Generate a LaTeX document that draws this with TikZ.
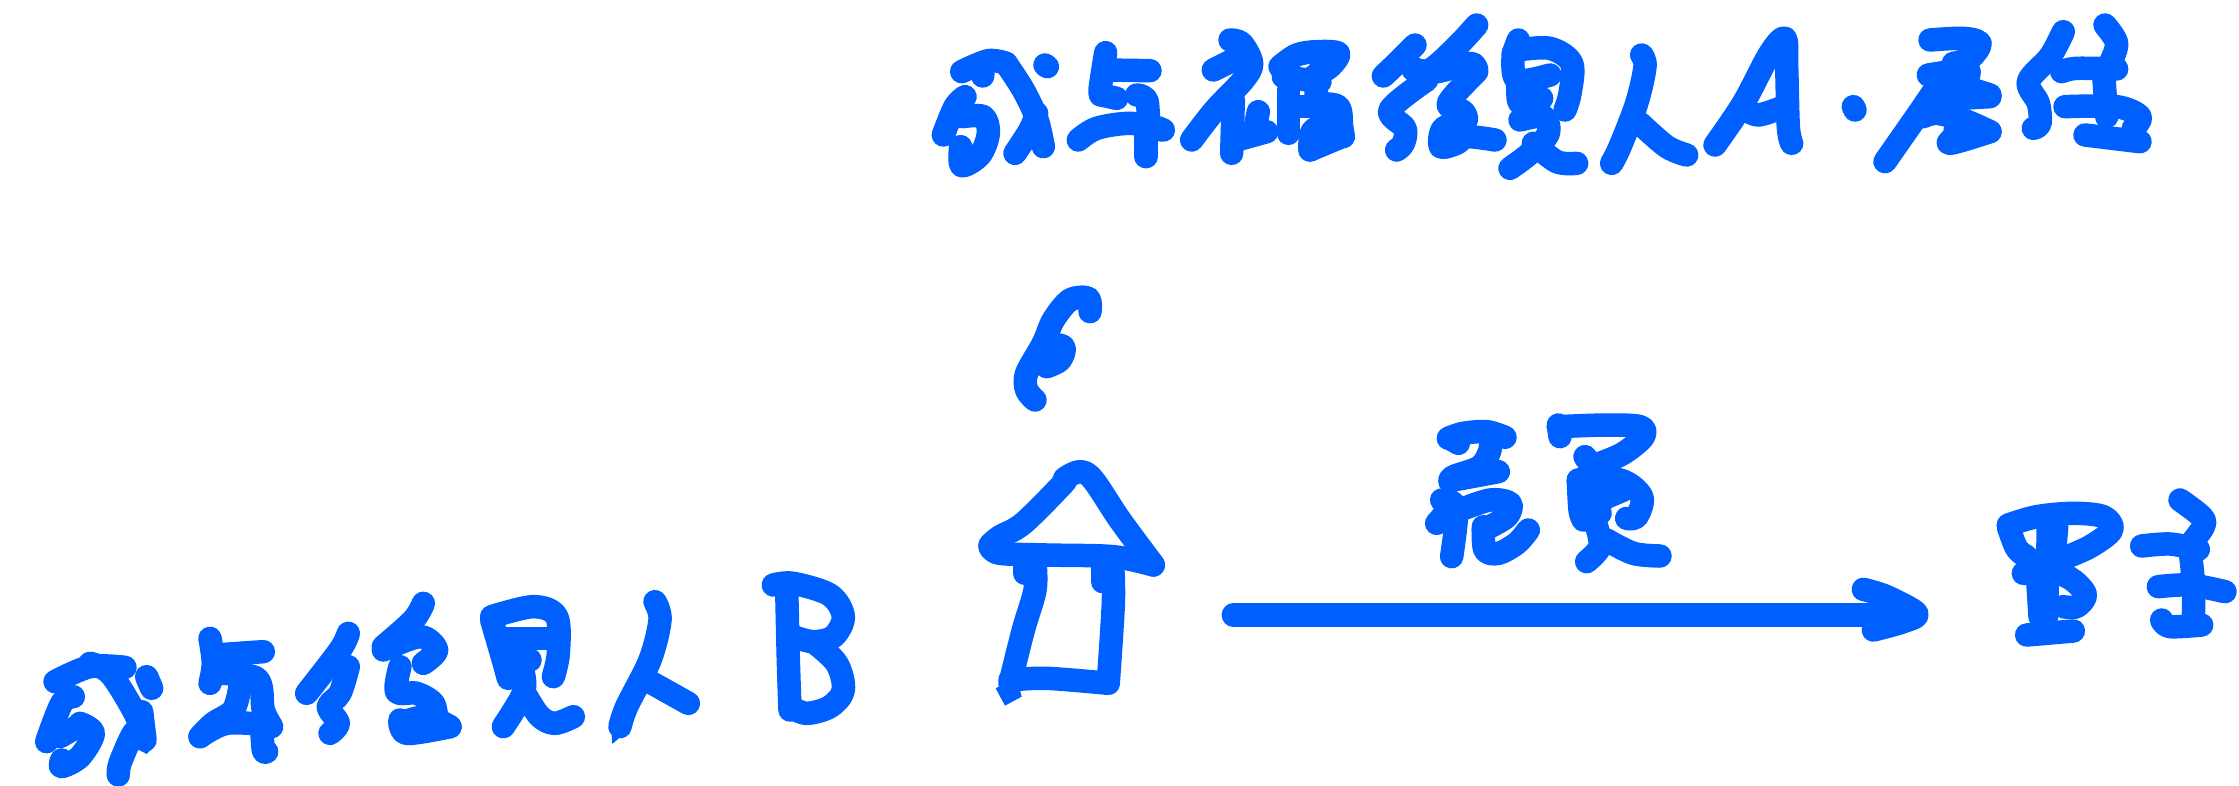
\documentclass[tikz,border=0pt]{standalone}
\definecolor{inkblue}{HTML}{0060FF}
\tikzset{ink/.style={draw=inkblue,line width=23.5pt,line cap=round,line join=round},
  tip/.style={fill=inkblue,draw=none},
  crop/.style={x=0.33333pt,y=-0.33333pt}}
\newcommand\sk[1]{\draw[ink] plot[smooth,tension=.55] coordinates {#1};}
\begin{document}
\begin{tikzpicture}[x=1pt,y=-1pt]
\useasboundingbox (0,0) rectangle (2239,785);
% top line, part A
\begin{scope}[shift={(930pt,0pt)},crop]
\sk{(95,215)(175,182)(228,190)}
\sk{(160,195)(158,228)}
\sk{(228,190)(280,270)(320,355)(340,440)}
\sk{(255,460)(300,390)(320,340)}
\sk{(40,405)(75,320)(105,290)}
\sk{(97,350)(160,350)(175,400)(150,465)(95,497)(92,440)}
\sk{(345,195)(352,200)}
\sk{(527,158)(510,270)(515,285)}
\sk{(527,210)(660,212)}
\sk{(515,285)(560,295)}
\sk{(620,285)(650,300)(660,375)(700,390)}
\sk{(445,420)(500,385)(600,370)(690,385)}
\sk{(648,370)(648,470)}
\sk{(900,120)(935,130)(965,190)(940,240)(855,330)(785,420)}
\sk{(850,210)(930,170)}
\sk{(910,300)(905,460)}
\sk{(985,335)(975,385)}
\sk{(1010,395)(920,420)}
\sk{(1050,200)(1100,165)(1160,155)(1225,160)(1200,200)(1150,230)}
\sk{(1075,270)(1075,400)}
\sk{(1060,230)(1170,245)}
\sk{(1170,210)(1160,300)(1225,320)(1235,380)(1240,410)}
\sk{(1080,320)(1150,320)}
\sk{(1140,450)(1150,390)(1225,370)}
\sk{(1140,450)(1235,410)}
\end{scope}
% top line, part B
\begin{scope}[shift={(1370pt,0pt)},crop]
\sk{(40,228)(80,190)(135,135)}
\sk{(320,75)(260,140)(180,210)(130,205)}
\sk{(130,210)(200,215)(300,190)(320,210)}
\sk{(170,240)(60,330)(105,385)(100,430)(80,450)}
\sk{(320,215)(235,310)(280,335)(285,365)(220,385)(212,440)(260,430)(290,410)(375,420)}
\sk{(445,120)(430,160)}
\sk{(445,150)(540,145)(605,190)(600,280)(585,330)}
\sk{(430,160)(440,240)(540,225)}
\sk{(445,240)(450,310)(515,295)}
\sk{(450,360)(520,350)(535,400)(480,460)(420,505)}
\sk{(490,430)(560,485)(620,490)}
\sk{(815,165)(825,200)(800,310)(750,440)(725,490)}
\sk{(810,370)(890,440)(950,465)}
\sk{(1035,435)(1120,310)(1200,160)(1245,115)(1250,200)(1255,380)(1265,430)}
\sk{(1130,330)(1165,345)(1230,325)}
\end{scope}
% top line, part C
\begin{scope}[shift={(1790pt,0pt)},crop]
\sk{(190,320)(195,330)}
\sk{(420,120)(520,115)(570,130)(540,175)(490,190)}
\sk{(415,225)(480,215)(535,210)(530,240)}
\sk{(470,215)(400,320)(285,485)}
\sk{(490,250)(600,285)}
\sk{(420,300)(600,290)}
\sk{(400,350)(440,340)(520,360)(600,395)}
\sk{(500,310)(495,400)(480,430)(600,395)}
\sk{(820,95)(780,170)(715,245)(745,310)(750,370)(730,385)}
\sk{(945,75)(980,130)(960,190)}
\sk{(815,215)(860,205)(980,207)}
\sk{(940,210)(945,280)(950,350)}
\sk{(825,320)(980,320)(1050,350)(1030,385)}
\sk{(885,405)(1050,425)}
\end{scope}
% bottom line, part D
\begin{scope}[shift={(0pt,-560pt)},crop]
\sk{(165,365)(270,320)(375,322)}
\sk{(270,310)(330,340)(400,450)(430,520)}
\sk{(220,410)(185,430)(140,545)}
\sk{(240,490)(280,520)(240,590)(185,620)(185,600)}
\sk{(240,495)(180,530)}
\sk{(430,500)(400,520)(360,610)(355,645)}
\sk{(440,350)(455,385)}
\sk{(425,455)(435,540)}
\fill[tip] (400,560)--(440,582)--(466,555)--(440,530)--cycle;
\sk{(630,235)(640,310)(630,370)}
\sk{(645,285)(790,275)}
\sk{(640,340)(770,355)(790,450)(815,500)}
\sk{(600,530)(640,490)(700,450)(720,380)}
\sk{(600,530)(680,490)(810,495)}
\sk{(785,500)(790,570)(800,575)}
\sk{(1045,220)(1020,270)(920,400)}
\sk{(1045,320)(1020,400)(985,440)(1015,490)(990,520)}
\sk{(1270,130)(1240,180)(1150,260)}
\sk{(1150,270)(1260,230)(1310,270)(1270,310)}
\sk{(1200,320)(1190,395)(1250,400)(1300,430)(1310,480)}
\sk{(1200,490)(1280,470)(1350,500)}
\sk{(1200,480)(1220,520)(1350,500)}
\end{scope}
% bottom line, part E
\begin{scope}[shift={(440pt,-560pt)},crop]
\sk{(155,170)(280,140)(350,170)(355,280)(340,350)}
\sk{(155,180)(190,300)(205,355)}
\sk{(180,235)(320,235)}
\sk{(200,300)(270,300)}
\sk{(250,340)(250,400)(190,500)}
\sk{(260,410)(300,470)(345,490)(400,470)}
\sk{(645,125)(660,180)(630,300)(560,440)(540,500)}
\fill[tip] (512,490)--(517,552)--(565,510)--(570,470)--cycle;
\sk{(620,360)(745,430)}
\sk{(1000,75)(1060,70)(1170,105)(1210,170)(1180,230)(1120,245)(1060,230)}
\sk{(1040,80)(1045,300)(1050,450)}
\sk{(1120,245)(1190,310)(1210,390)(1170,440)(1100,460)(1050,440)}
\end{scope}
% curl and house
\begin{scope}[shift={(980pt,-270pt)},crop]
\sk{(330,125)(325,85)(270,90)(220,150)(190,220)(140,310)(140,360)(165,390)}
\sk{(190,220)(250,230)(240,270)(200,290)}
\sk{(30,825)(60,800)(130,760)(250,640)(255,625)(300,605)(340,630)(420,750)(520,885)}
\sk{(30,830)(60,850)(200,855)(400,860)(520,885)}
\sk{(135,880)(135,910)}
\sk{(165,880)(165,960)(130,1080)(90,1240)}
\sk{(368,890)(368,935)}
\sk{(398,890)(400,1000)(385,1235)}
\sk{(90,1230)(200,1225)(385,1240)}
\fill[tip] (47,1255)--(75,1307)--(125,1280)--(110,1220)--cycle;
\end{scope}
% label above arrow
\begin{scope}[shift={(1420pt,-400pt)},crop]
\sk{(85,115)(130,100)(200,95)(255,112)}
\sk{(115,130)(90,115)}
\sk{(210,110)(210,150)(180,200)(100,230)(90,245)}
\sk{(100,240)(235,215)}
\sk{(65,300)(80,330)(50,370)}
\sk{(80,300)(110,330)(95,470)}
\sk{(120,330)(210,300)(270,310)(260,350)(190,390)}
\sk{(190,380)(195,450)(235,460)(290,430)(325,390)}
\sk{(415,75)(420,110)}
\sk{(415,80)(560,75)(660,80)(670,110)(610,160)(540,190)}
\sk{(495,170)(510,190)}
\sk{(475,240)(480,330)(490,360)}
\sk{(475,240)(600,240)(665,290)(650,350)(620,355)}
\sk{(520,240)(540,340)}
\sk{(540,300)(610,270)}
\sk{(530,380)(540,440)(500,485)}
\sk{(560,420)(640,460)(720,468)}
\end{scope}
% arrow
\begin{scope}[shift={(1820pt,-530pt)},crop]
\sk{(-1760,255)(250,255)}
\sk{(130,178)(200,200)(290,250)(250,275)(160,300)}
\end{scope}
% right label
\begin{scope}[shift={(1930pt,-470pt)},crop]
\sk{(235,165)(320,140)(430,130)(520,140)(545,180)(480,230)(400,265)}
\sk{(235,170)(260,235)(290,260)}
\sk{(355,160)(350,440)}
\sk{(320,280)(330,440)}
\sk{(380,170)(370,290)}
\sk{(280,310)(400,315)(465,370)(440,410)(400,410)}
\sk{(290,495)(430,483)}
\sk{(750,90)(815,140)(820,170)(775,230)}
\sk{(635,228)(720,222)(805,238)}
\sk{(780,240)(790,340)(790,460)}
\sk{(685,350)(780,345)(885,365)}
\sk{(695,450)(720,470)(815,465)}
\end{scope}
\end{tikzpicture}
\end{document}
